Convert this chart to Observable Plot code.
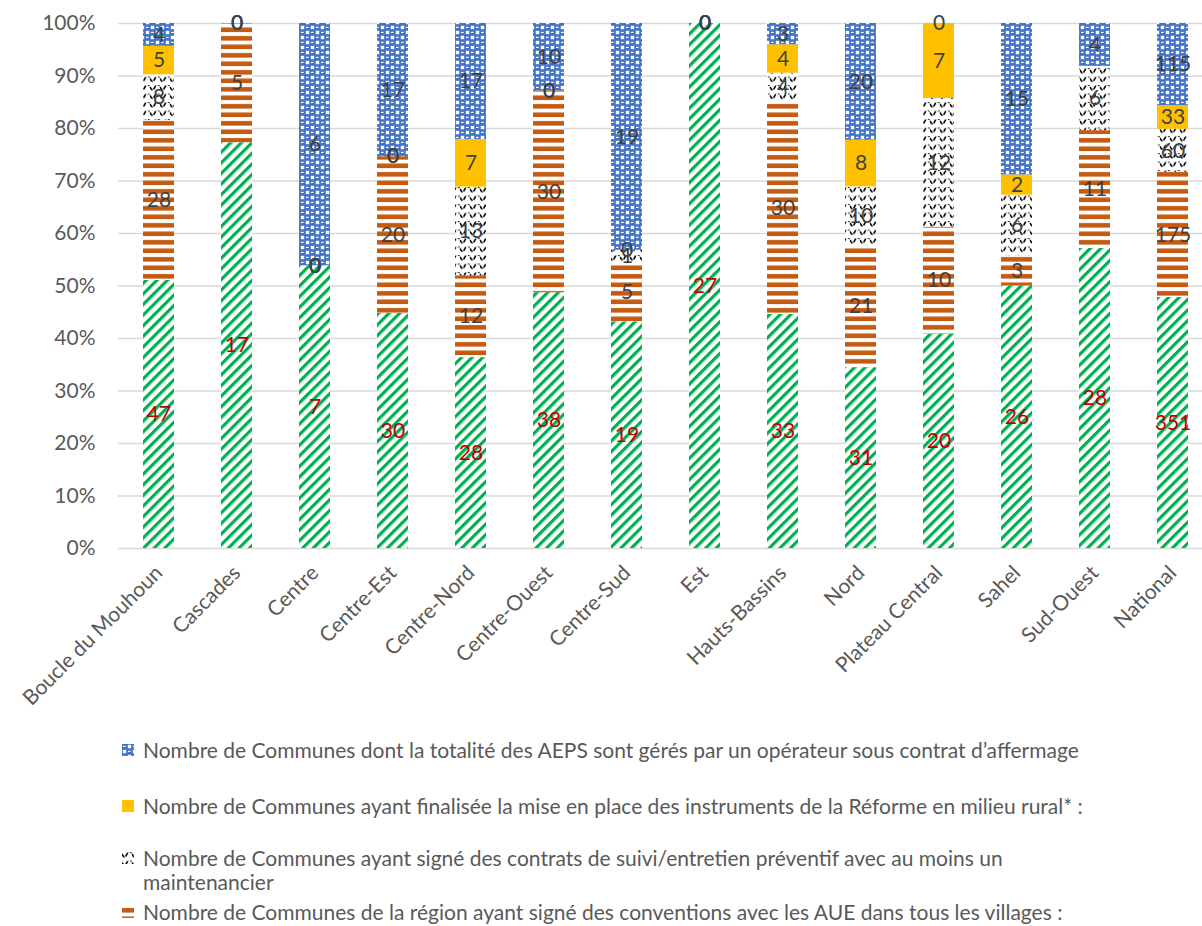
<!DOCTYPE html>
<html>
<head>
<meta charset="utf-8">
<script src="https://cdn.jsdelivr.net/npm/d3@7"></script>
<script src="https://cdn.jsdelivr.net/npm/@observablehq/plot@0.6"></script>
<style>
  html, body { margin: 0; padding: 0; background: #fff; overflow: hidden; }
  #wrap { position: relative; width: 1202px; height: 926px; font-family: Lato, "Open Sans", sans-serif; }
  .leg { position: absolute; left: 122px; color: #595959; font-size: 21px; line-height: 24px; }
  .leg svg { position: absolute; left: 0; top: 6px; }
  .leg span { display: block; margin-left: 21px; white-space: nowrap; }
</style>
</head>
<body>
<div id="wrap"></div>
<script>
const categories = ["Boucle du Mouhoun","Cascades","Centre","Centre-Est","Centre-Nord","Centre-Ouest","Centre-Sud","Est","Hauts-Bassins","Nord","Plateau Central","Sahel","Sud-Ouest","National"];
// bottom to top
const serieVert   = [47, 17, 7, 30, 28, 38, 19, 27, 33, 31, 20, 26, 28, 351];
const serieOrange = [28, 5, 0, 20, 12, 30, 5, 0, 30, 21, 10, 3, 11, 175];
const serieVague  = [8, 0, 0, 0, 13, 0, 1, 0, 4, 10, 12, 6, 6, 60];
const serieJaune  = [5, 0, 0, 0, 7, 0, 0, 0, 4, 8, 7, 2, null, 33];
const serieBleu   = [4, 0, 6, 17, 17, 10, 19, 0, 3, 20, 0, 15, 4, 115];
const yTicks = [0, 0.1, 0.2, 0.3, 0.4, 0.5, 0.6, 0.7, 0.8, 0.9, 1];

const legendLabels = [
  "Nombre de Communes dont la totalité des AEPS sont gérés par un opérateur sous contrat d’affermage",
  "Nombre de Communes ayant finalisée la mise en place des instruments de la Réforme en milieu rural* :",
  "Nombre de Communes ayant signé des contrats de suivi/entretien préventif avec au moins un|maintenancier",
  "Nombre de Communes de la région ayant signé des conventions avec les AUE dans tous les villages :"
];

const seriesDefs = [
  {key: "vert", values: serieVert, fill: "url(#pVert)", text: "#C00000"},
  {key: "orange", values: serieOrange, fill: "url(#pOrange)", text: "#404040"},
  {key: "vague", values: serieVague, fill: "url(#pVague)", text: "#404040"},
  {key: "jaune", values: serieJaune, fill: "#FFC000", text: "#404040"},
  {key: "bleu", values: serieBleu, fill: "url(#pBleu)", text: "#404040"}
];

const data = [];
categories.forEach((c, i) => {
  seriesDefs.forEach(s => {
    const v = s.values[i];
    data.push({cat: c, series: s.key, value: v == null ? 0 : v, label: v == null ? "" : String(v), fill: s.fill, tcol: s.text});
  });
});

const chart = Plot.plot({
  width: 1202,
  height: 740,
  marginTop: 23,
  marginBottom: 192,
  marginLeft: 118,
  marginRight: 0,
  style: {fontFamily: "Lato, 'Open Sans', sans-serif", fontSize: "21px", color: "#595959", background: "transparent"},
  x: {type: "band", domain: categories, range: [118, 1213.6], paddingInner: 0.604, paddingOuter: 0.293, label: null},
  y: {domain: [0, 1], label: null},
  color: {type: "identity"},
  marks: [
    Plot.ruleY(yTicks, {stroke: "#D9D9D9", strokeWidth: 1.5}),
    Plot.barY(data, Plot.stackY({offset: "normalize", x: "cat", y: "value", z: "series", fill: "fill"})),
    Plot.text(data, Plot.stackY({offset: "normalize", x: "cat", y: "value", z: "series", text: "label", fill: "tcol", fontSize: 21})),
    Plot.axisY(yTicks, {tickSize: 0, tickPadding: 23, tickFormat: d3.format(".0%"), fill: "#595959", fontSize: 21}),
    Plot.axisX({tickSize: 0, tickPadding: 21, tickRotate: -45, fill: "#595959", fontSize: 21})
  ]
});

const defs = `
<defs>
  <pattern id="pVert" patternUnits="userSpaceOnUse" width="7.5" height="7.5" patternTransform="rotate(45)">
    <rect width="7.5" height="7.5" fill="#fff"/>
    <rect width="3.2" height="7.5" fill="#00B050"/>
  </pattern>
  <pattern id="pOrange" patternUnits="userSpaceOnUse" width="10" height="8.5">
    <rect width="10" height="8.5" fill="#fff"/>
    <rect y="2" width="10" height="4.6" fill="#C55A11"/>
  </pattern>
  <pattern id="pVague" patternUnits="userSpaceOnUse" width="10" height="8.5">
    <rect width="10" height="8.5" fill="#fff"/>
    <path d="M0,2 Q2.5,7.5 5,2 T10,2" fill="none" stroke="#000" stroke-width="1.6" stroke-dasharray="4 1"/>
  </pattern>
  <pattern id="pBleu" patternUnits="userSpaceOnUse" width="10" height="10">
    <rect width="10" height="10" fill="#4472C4"/>
    <rect x="5.8" y="0.8" width="3.4" height="3.4" fill="#fff"/>
    <rect x="0.8" y="5.8" width="3.4" height="3.4" fill="#fff"/>
    <rect x="1" y="1.8" width="2.6" height="1.2" fill="#fff"/>
    <rect x="6" y="6.8" width="2.6" height="1.2" fill="#fff"/>
  </pattern>
</defs>`;
chart.insertAdjacentHTML("afterbegin", defs);
chart.style.position = "absolute";
chart.style.left = "0px";
chart.style.top = "0px";
const wrap = document.getElementById("wrap");
wrap.appendChild(chart);

const legFills = ["url(#pBleu)", "#FFC000", "url(#pVague)", "url(#pOrange)"];
const legTops = [738, 794, 846, 900];
legendLabels.forEach((t, i) => {
  const div = document.createElement("div");
  div.className = "leg";
  div.style.top = legTops[i] + "px";
  div.innerHTML = `<svg width="12" height="12"><rect width="12" height="12" fill="${legFills[i]}"/></svg>` +
    t.split("|").map(s => `<span>${s}</span>`).join("");
  wrap.appendChild(div);
});
</script>
</body>
</html>
